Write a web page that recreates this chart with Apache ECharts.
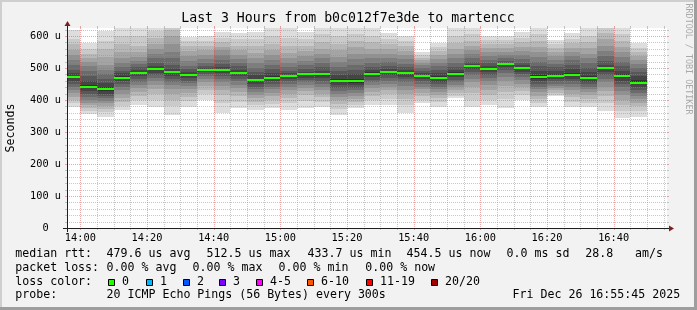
<!DOCTYPE html>
<html><head><meta charset="utf-8">
<script src="https://cdn.jsdelivr.net/npm/echarts@6/dist/echarts.min.js"></script>
<style>html,body{margin:0;padding:0;background:#f2f2f2}#c{width:697px;height:310px}</style>
</head><body><div id="c"></div>
<script>
// 5-minute buckets (end time of each bucket)
const slotEnd = ['14:00','14:05','14:10','14:15','14:20','14:25','14:30','14:35','14:40','14:45','14:50','14:55',
  '15:00','15:05','15:10','15:15','15:20','15:25','15:30','15:35','15:40','15:45','15:50','15:55',
  '16:00','16:05','16:10','16:15','16:20','16:25','16:30','16:35','16:40','16:45','16:50'];
// median rtt (us)
const median = [471,442,434,470,485,496,487,478,494,494,485,462,470,476,480,480,460,459,482,487,484,475,469,482,505,497,512,499,471,476,478,469,499,474,454];
// sorted ping rtts per bucket (us), rank 1 = fastest ... rank 20 = slowest
const ping01 = [378,355,347,368,385,378,354,378,400,360,375,369,375,369,375,378,354,375,385,385,359,391,378,406,378,385,375,401,378,411,378,378,366,345,348];
const ping02 = [390,365,362,382,400,400,380,396,418,390,395,383,388,390,398,395,373,385,400,402,385,400,393,413,400,400,402,415,391,417,394,392,392,367,365];
const ping03 = [400,375,372,395,412,420,400,410,432,415,412,395,400,405,415,408,388,395,413,418,403,412,405,422,422,417,425,428,403,423,408,404,412,385,380];
const ping04 = [410,385,382,405,425,435,418,422,445,430,425,405,412,418,428,420,400,404,425,430,418,423,415,431,440,432,443,440,414,430,420,415,428,400,392];
const ping05 = [421,392,390,418,437,448,433,433,455,443,437,415,423,430,438,432,410,413,436,441,432,433,425,440,455,446,458,451,425,437,431,425,442,415,403];
const ping06 = [430,400,398,430,448,458,446,443,465,455,448,425,433,440,447,442,419,422,446,451,444,442,434,448,467,458,472,462,434,444,441,434,455,428,413];
const ping07 = [440,408,405,440,457,468,457,452,474,466,458,433,442,449,455,451,428,430,455,460,455,450,442,456,478,469,484,472,442,451,450,442,467,440,422];
const ping08 = [450,418,413,450,466,477,467,460,481,476,467,442,450,458,463,460,437,438,464,469,465,458,450,464,488,479,494,481,450,458,459,449,478,450,431];
const ping09 = [460,428,420,458,474,485,476,468,487,484,475,450,458,466,470,468,446,446,472,477,473,465,457,471,496,487,503,489,458,465,467,456,488,460,440];
const ping10 = [468,437,428,466,481,493,484,475,492,491,482,458,466,473,477,476,455,454,479,484,481,472,465,478,502,494,510,496,466,472,475,465,496,469,450];
const ping11 = [474,448,440,474,488,499,490,481,496,497,489,467,474,479,483,484,466,466,486,491,488,479,474,486,507,500,514,502,477,482,485,476,503,480,462];
const ping12 = [483,460,452,483,495,505,497,488,500,503,495,477,485,484,489,492,478,480,493,498,494,485,484,493,512,506,516,508,490,491,496,488,510,492,474];
const ping13 = [495,475,465,492,503,515,510,496,507,512,505,488,497,492,498,502,490,493,503,507,503,492,494,503,520,515,522,517,505,502,510,500,522,505,487];
const ping14 = [508,492,480,503,512,530,530,507,516,525,515,500,510,502,510,515,503,510,515,518,514,500,505,515,531,525,530,528,520,514,524,515,538,520,500];
const ping15 = [525,505,495,515,522,545,550,522,528,540,527,515,525,515,523,530,518,528,530,532,527,508,516,530,543,537,540,540,535,526,538,530,553,535,512];
const ping16 = [540,518,510,530,535,560,575,538,540,555,540,530,540,530,538,545,535,545,545,545,540,516,528,545,556,549,550,553,550,538,551,545,570,550,525];
const ping17 = [556,530,535,550,550,575,600,552,555,567,555,548,555,548,553,560,555,565,560,560,553,524,540,560,570,561,562,566,566,550,564,563,590,566,538];
const ping18 = [575,545,560,575,570,595,620,570,570,580,570,568,575,570,570,580,575,585,580,575,568,532,552,578,585,574,575,580,585,562,578,580,610,585,550];
const ping19 = [590,560,585,600,600,615,635,585,585,595,590,590,600,595,590,605,600,605,600,590,585,540,565,600,605,588,588,595,605,575,592,600,630,605,563];
const ping20 = [618,578,617,640,632,635,650,598,600,614,610,614,630,630,614,630,630,630,630,610,601,549,578,630,630,601,601,614,630,588,610,630,650,630,578];
// axis tick labels
const xLabels = ['14:00','14:20','14:40','15:00','15:20','15:40','16:00','16:20','16:40'];
const yLabels = [0,100,200,300,400,500,600];
// loss legend
const lossNames = ['0','1','2','3','4-5','6-10','11-19','20/20'];
const lossColors = ['#26ff00','#00b8ff','#0059ff','#7e00ff','#ff00ff','#ff5500','#ff0000','#a10000'];

const toMin = s => { const p = s.split(':').map(Number); return p[0]*60 + p[1]; };
const fmt = v => { const h = Math.floor(v/60), m = v%60; return (h<10?'0':'')+h+':'+(m<10?'0':'')+m; };
const X_MIN = toMin('13:56'), X_MAX = toMin('16:56'), Y_MAX = 625;
const pings = [ping01,ping02,ping03,ping04,ping05,ping06,ping07,ping08,ping09,ping10,ping11,ping12,ping13,ping14,ping15,ping16,ping17,ping18,ping19,ping20];
const bandColors = [];
for (let b = 0; b < 10; b++) { const c = Math.floor(190/10*(9-b)) + 50; bandColors.push('rgb('+c+','+c+','+c+')'); }

const MONO = '"DejaVu Sans Mono", monospace';
const slotData = slotEnd.map((s, i) => [toMin(s), median[i]]);

function smokeItem(params, api) {
  const i = params.dataIndex;
  const t1 = api.value(0), t0 = t1 - 5;
  const children = [];
  for (let b = 0; b < 10; b++) {
    const lo = pings[b][i], hi = pings[19-b][i];
    const a = api.coord([t0, hi]), c = api.coord([t1, lo]);
    const x0 = Math.round(a[0]), x1 = Math.round(c[0]);
    const y0 = Math.round(a[1]), y1 = Math.round(c[1]);
    children.push({type:'rect', shape:{x:x0, y:y0, width:x1-x0, height:y1-y0}, style:{fill:bandColors[b]}});
  }
  return {type:'group', children};
}
function medianItem(params, api) {
  const t1 = api.value(0), t0 = t1 - 5, m = api.value(1);
  const a = api.coord([t0, m]), c = api.coord([t1, m]);
  const x0 = Math.round(a[0]), x1 = Math.round(c[0]), y = Math.round(a[1]);
  return {type:'rect', shape:{x:x0, y:y-1, width:x1-x0, height:2}, style:{fill:lossColors[0]}};
}
const MINOR = 'rgba(143,143,143,0.5)', MAJOR = 'rgba(222,79,79,0.5)';
function gridItem(params, api) {
  const cs = params.coordSys;
  const L = cs.x, R = cs.x + cs.width, T = cs.y, B = cs.y + cs.height;
  const ch = [];
  const majorX = xLabels.map(toMin);
  const minorX = [];
  for (let t = toMin('14:00'); t < X_MAX; t += 5) if (majorX.indexOf(t) < 0) minorX.push(t);
  const minorY = [];
  for (let v = 20; v < Y_MAX; v += 20) if (v % 100 !== 0) minorY.push(v);
  const majorY = yLabels.filter(v => v > 0);
  const vline = (t, col) => {
    const x = Math.round(api.coord([t, 0])[0]) + 0.5;
    ch.push({type:'line', shape:{x1:x, y1:T, x2:x, y2:B}, style:{stroke:col, lineWidth:1, lineDash:[1,1]}});
    ch.push({type:'line', shape:{x1:x, y1:B, x2:x, y2:B+2}, style:{stroke:col, lineWidth:1}});
    ch.push({type:'line', shape:{x1:x, y1:T-2, x2:x, y2:T}, style:{stroke:col, lineWidth:1}});
  };
  const hline = (v, col) => {
    const y = Math.round(api.coord([X_MIN, v])[1]) + 0.5;
    ch.push({type:'line', shape:{x1:L, y1:y, x2:R, y2:y}, style:{stroke:col, lineWidth:1, lineDash:[1,1]}});
    ch.push({type:'line', shape:{x1:L-2, y1:y, x2:L, y2:y}, style:{stroke:col, lineWidth:1}});
    ch.push({type:'line', shape:{x1:R, y1:y, x2:R+2, y2:y}, style:{stroke:col, lineWidth:1}});
  };
  minorX.forEach(t => vline(t, MINOR));
  minorY.forEach(v => hline(v, MINOR));
  majorX.forEach(t => vline(t, MAJOR));
  majorY.forEach(v => hline(v, MAJOR));
  // axes
  const yb = B + 0.5, xl = L + 0.5;
  ch.push({type:'line', shape:{x1:L-4, y1:yb, x2:R+4, y2:yb}, style:{stroke:'#1f1f1f', lineWidth:1}});
  ch.push({type:'line', shape:{x1:xl, y1:B+4, x2:xl, y2:T-4}, style:{stroke:'#1f1f1f', lineWidth:1}});
  ch.push({type:'polygon', shape:{points:[[R+2, yb-3],[R+2, yb+3],[R+7, yb]]}, style:{fill:'#801f1f'}});
  ch.push({type:'polygon', shape:{points:[[xl-3, T-2],[xl+3, T-2],[xl, T-7]]}, style:{fill:'#801f1f'}});
  return {type:'group', children:ch};
}

const LF = '11.6px ' + MONO;
const txt = (text, x, y, extra) => Object.assign({type:'text', silent:true, style:Object.assign({text, x, y, font:LF, fill:'#000', align:'left', verticalAlign:'middle', textAlign:'left', textVerticalAlign:'middle'}, extra||{})});
const g = [];
// frame shading
g.push({type:'rect', shape:{x:0,y:0,width:697,height:2}, style:{fill:'#cfcfcf'}, silent:true});
g.push({type:'rect', shape:{x:0,y:0,width:2,height:310}, style:{fill:'#cfcfcf'}, silent:true});
g.push({type:'rect', shape:{x:0,y:307,width:697,height:3}, style:{fill:'#9e9e9e'}, silent:true});
g.push({type:'rect', shape:{x:694,y:0,width:3,height:310}, style:{fill:'#9e9e9e'}, silent:true});
// title
g.push(txt('Last 3 Hours from b0c012f7e3de to martencc', 348, 18.8, {font:'13.2px '+MONO, align:'center', textAlign:'center'}));
// y axis title
g.push({type:'text', silent:true, x:11, y:128, rotation:Math.PI/2, style:{text:'Seconds', x:0, y:0, font:LF, fill:'#000', align:'center', verticalAlign:'middle', textAlign:'center', textVerticalAlign:'middle'}});
// watermark
g.push({type:'text', silent:true, x:688, y:59, rotation:-Math.PI/2, style:{text:'RRDTOOL / TOBI OETIKER', x:0, y:0, font:'8.4px '+MONO, fill:'#a9a9a9', align:'center', verticalAlign:'middle', textAlign:'center', textVerticalAlign:'middle'}});
// legend
const L1 = 254.4, L2 = 268, L3 = 281.7, L4 = 295.3;
[['median rtt:',15.3],['479.6 us avg',106.6],['512.5 us max',206.6],['433.7 us min',307.6],['454.5 us now',406.6],['0.0 ms sd',506.6],['28.8',585.3],['am/s',635]].forEach(a => g.push(txt(a[0], a[1], L1)));
[['packet loss:',15.3],['0.00 % avg',106.6],['0.00 % max',192.6],['0.00 % min',278.6],['0.00 % now',365.3]].forEach(a => g.push(txt(a[0], a[1], L2)));
g.push(txt('loss color:', 15.3, L3));
const boxX = [108,146,183,219,256,307,366,431];
lossNames.forEach((n, i) => {
  g.push({type:'rect', silent:true, shape:{x:boxX[i]+0.5, y:279.5, width:6, height:6}, style:{fill:lossColors[i], stroke:'#000', lineWidth:1}});
  g.push(txt(n, boxX[i]+14, L3));
});
g.push(txt('probe:', 15.3, L4));
g.push(txt('20 ICMP Echo Pings (56 Bytes) every 300s', 106.6, L4));
g.push(txt('Fri Dec 26 16:55:45 2025', 512.6, L4));

const chart = echarts.init(document.getElementById('c'), null, {renderer:'canvas'});
chart.setOption({
  animation: false,
  backgroundColor: '#f2f2f2',
  grid: {left:67, top:28, width:600, height:200, show:true, backgroundColor:'#ffffff', borderWidth:0, containLabel:false},
  xAxis: {type:'value', min:X_MIN, max:X_MAX,
    axisLine:{show:false}, axisTick:{show:false}, splitLine:{show:false},
    axisLabel:{customValues: xLabels.map(toMin), formatter: v => fmt(v), color:'#000', fontFamily:MONO, fontSize:10.3, margin:5}},
  yAxis: {type:'value', min:0, max:Y_MAX,
    axisLine:{show:false}, axisTick:{show:false}, splitLine:{show:false},
    axisLabel:{customValues: yLabels, formatter: v => v === 0 ? '0  ' : v + ' u', color:'#000', fontFamily:MONO, fontSize:10.3, margin:6}},
  series: [
    {type:'custom', name:'smoke', coordinateSystem:'cartesian2d', clip:true, z:2, silent:true, encode:{x:0, y:1}, data:slotData, renderItem:smokeItem},
    {type:'custom', name:'grid', coordinateSystem:'cartesian2d', clip:false, z:3, silent:true, encode:{x:0, y:1}, data:[[X_MIN, 0]], renderItem:gridItem},
    {type:'custom', name:'median', coordinateSystem:'cartesian2d', clip:true, z:4, silent:true, encode:{x:0, y:1}, data:slotData, renderItem:medianItem}
  ],
  graphic: {elements: g}
});
</script></body></html>
